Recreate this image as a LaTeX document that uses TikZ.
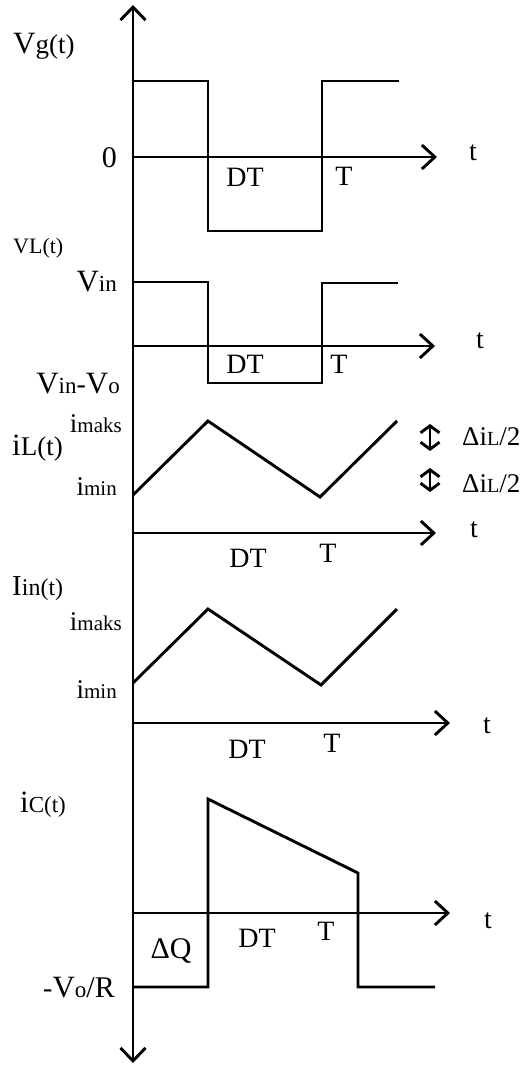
\documentclass[tikz,border=0pt]{standalone}
\usepackage{fontspec}
\setmainfont{Liberation Serif}
\usetikzlibrary{arrows.meta}
\newcommand{\fsz}[1]{\fontsize{#1}{#1}\selectfont}

\begin{document}
\begin{tikzpicture}[x=1pt,y=-1pt,
  wave/.style={line width=2.9pt,line join=miter},
  axis/.style={line width=2.9pt,-{Straight Barb[length=13pt,width=24pt]}},
  delta/.style={line width=2.9pt,{Straight Barb[length=7pt,width=19pt]}-{Straight Barb[length=7pt,width=19pt]}},
  lbl/.style={inner sep=0pt,anchor=base,font=\fsz{28}},
  leftlbl/.style={lbl,anchor=base west},
  sidelbl/.style={lbl,anchor=base east},
]
\useasboundingbox (0,0) rectangle (523,1068);

% vertical axis
\coordinate (top) at (133,5);
\coordinate (bot) at (133,1063);
\draw[line width=2.9pt,{Straight Barb[length=13pt,width=25pt]}-{Straight Barb[length=13pt,width=25pt]}] (bot) -- (top);

% time axes
\coordinate (o1) at (133,157); \coordinate (e1) at (437,157);
\coordinate (o2) at (133,346); \coordinate (e2) at (435,346);
\coordinate (o3) at (133,533); \coordinate (e3) at (436,533);
\coordinate (o4) at (133,723); \coordinate (e4) at (450,723);
\coordinate (o5) at (133,913); \coordinate (e5) at (450,913);
\foreach \i in {1,...,5}
  \draw[axis] (o\i) -- (e\i);

% Vg(t)
\draw[wave] (133,81) -- (208,81) -- (208,231) -- (322,231) -- (322,81) -- (399,81);
\node[leftlbl] (vg) at (13,53) {\fsz{31}V\fsz{27}g(t)};
\node[sidelbl,font=\fsz{30}] (zero) at (117,167) {0};
\node[lbl] (dt1) at (245,186) {DT};
\node[lbl] (tp1) at (344,185) {T};
\node[lbl] (t1) at (473,160) {t};

% VL(t)
\draw[wave] (133,282) -- (208,282) -- (208,383) -- (322,383) -- (322,283) -- (398,283);
\node[leftlbl,font=\fsz{22}] (vl) at (13,253) {VL(t)};
\node[sidelbl] (vin) at (117,291) {\fsz{31}V\fsz{23}in};
\node[sidelbl] (vinvo) at (120,393) {\fsz{31}V\fsz{23}in\fsz{28}-\fsz{31}V\fsz{23}o};
\node[lbl] (dt2) at (245,373) {DT};
\node[lbl] (tp2) at (339,373) {T};
\node[lbl] (t2) at (480,348) {t};

% iL(t)
\draw[wave] (133,495) -- (208,421) -- (320,497) -- (397,421);
\node[leftlbl] (il) at (12,455) {\fsz{31}i\fsz{27}L(t)};
\node[sidelbl] (imax3) at (122,432) {\fsz{27}i\fsz{21}maks};
\node[sidelbl] (imin3) at (117,495) {\fsz{27}i\fsz{21}min};
\coordinate (da1) at (430,424); \coordinate (db1) at (430,451);
\coordinate (da2) at (430,468); \coordinate (db2) at (430,492);
\draw[delta] (da1) -- (db1);
\draw[delta] (da2) -- (db2);
\node[leftlbl,font=\fsz{27}] (dil1) at (462,445) {Δi{\fsz{20}L}/2};
\node[leftlbl,font=\fsz{27}] (dil2) at (462,492) {Δi{\fsz{20}L}/2};
\node[lbl] (dt3) at (248,567) {DT};
\node[lbl] (tp3) at (328,562) {T};
\node[lbl] (t3) at (474,537) {t};

% Iin(t)
\draw[wave] (133,683) -- (208,609) -- (321,685) -- (397,609);
\node[leftlbl] (iin) at (12,595) {\fsz{29}I\fsz{24}in(t)};
\node[sidelbl] (imax4) at (122,630) {\fsz{27}i\fsz{21}maks};
\node[sidelbl] (imin4) at (117,698) {\fsz{27}i\fsz{21}min};
\node[lbl] (dt4) at (247,758) {DT};
\node[lbl] (tp4) at (332,752) {T};
\node[lbl] (t4) at (487,733) {t};

% iC(t)
\draw[wave] (133,987) -- (208,987) -- (208,799) -- (358,873) -- (358,987) -- (435,987);
\node[leftlbl] (ic) at (20,812) {\fsz{31}i\fsz{23}C(t)};
\node[sidelbl] (vor) at (115,997) {\fsz{28}-\fsz{31}V\fsz{23}o\fsz{30}/R};
\node[lbl,font=\fsz{30}] (dq) at (171,958) {ΔQ};
\node[lbl] (dt5) at (257,947) {DT};
\node[lbl] (tp5) at (326,940) {T};
\node[lbl] (t5) at (488,928) {t};
\end{tikzpicture}
\end{document}
